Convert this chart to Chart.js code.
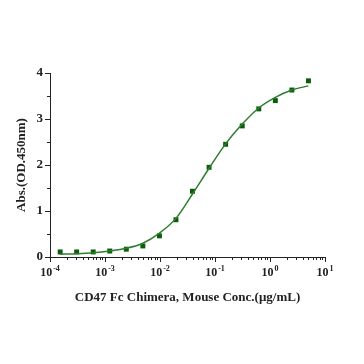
<!DOCTYPE html>
<html>
<head>
<meta charset="utf-8">
<script src="https://cdn.jsdelivr.net/npm/chart.js@4"></script>
<style>
  html, body { margin: 0; padding: 0; background: #fff; }
  #wrap { width: 364px; height: 364px; }
</style>
</head>
<body>
<div id="wrap"><canvas id="elisa"></canvas></div>
<script>
// 2-fold dilutions from 5 ug/mL
const conc = [0.000153, 0.000305, 0.00061, 0.00122, 0.00244, 0.00488, 0.00977, 0.0195,
              0.039, 0.078, 0.156, 0.3125, 0.625, 1.25, 2.5, 5];
const absorbance = [0.11, 0.11, 0.11, 0.13, 0.17, 0.24, 0.46, 0.81,
                    1.43, 1.95, 2.45, 2.85, 3.22, 3.40, 3.63, 3.83];
// fitted curve
const fitAbs = [0.06, 0.07, 0.09, 0.13, 0.19, 0.30, 0.52, 0.84,
                1.37, 1.93, 2.46, 2.89, 3.24, 3.47, 3.63, 3.72];
const xTickPowers = [-4, -3, -2, -1, 0, 1];
const yTicks = [0, 1, 2, 3, 4];

const SERIF = '"Liberation Serif", "Times New Roman", serif';
const axisFont = { family: SERIF, weight: 'bold', size: 13 };
const titleFont = { family: SERIF, weight: 'bold', size: 13 };

// tick marks (major + minor) and the 10^n labels, placed with the scales
const axisDecor = {
  id: 'axisDecor',
  afterDraw(chart) {
    const { ctx, scales: { x, y } } = chart;
    ctx.save();
    ctx.strokeStyle = '#222';
    ctx.lineWidth = 1;
    ctx.beginPath();
    for (let e = -4; e <= 0; e++) {
      for (let m = 1; m <= 9; m++) {
        const px = Math.round(x.getPixelForValue(m * Math.pow(10, e))) + 0.5;
        const len = m === 1 ? 5 : 3;
        ctx.moveTo(px, y.bottom);
        ctx.lineTo(px, y.bottom + len);
      }
    }
    const last = Math.round(x.getPixelForValue(10)) + 0.5;
    ctx.moveTo(last, y.bottom);
    ctx.lineTo(last, y.bottom + 5);
    for (let v = 0; v <= 4; v += 0.5) {
      const py = Math.round(y.getPixelForValue(v)) + 0.5;
      const len = v % 1 === 0 ? 5 : 3;
      ctx.moveTo(x.left, py);
      ctx.lineTo(x.left - len, py);
    }
    ctx.stroke();

    ctx.fillStyle = '#222';
    ctx.textBaseline = 'middle';
    ctx.textAlign = 'left';
    const base = 'bold 12px ' + SERIF;
    const small = 'bold 8px ' + SERIF;
    const ty = y.bottom + 16;
    xTickPowers.forEach(e => {
      const px = x.getPixelForValue(Math.pow(10, e));
      const exp = e < 0 ? '-' + Math.abs(e) : String(e);
      ctx.font = base;
      const w1 = ctx.measureText('10').width;
      ctx.font = small;
      const w2 = ctx.measureText(exp).width;
      const x0 = px - (w1 + w2 + 1) / 2;
      ctx.font = base;
      ctx.fillText('10', x0, ty);
      ctx.font = small;
      ctx.fillText(exp, x0 + w1 + 1, ty - 4);
    });
    ctx.restore();
  }
};

new Chart(document.getElementById('elisa'), {
  type: 'scatter',
  data: {
    datasets: [
      {
        label: 'fit',
        type: 'line',
        data: conc.map((c, i) => ({ x: c, y: fitAbs[i] })),
        borderColor: '#2f7d2f',
        borderWidth: 1.5,
        pointRadius: 0,
        fill: false,
        cubicInterpolationMode: 'monotone'
      },
      {
        label: 'OD',
        data: conc.map((c, i) => ({ x: c, y: absorbance[i] })),
        pointStyle: 'rect',
        pointRadius: 3.5,
        backgroundColor: '#0a5c0a',
        borderColor: '#0a5c0a',
        borderWidth: 0
      }
    ]
  },
  options: {
    responsive: true,
    maintainAspectRatio: false,
    animation: false,
    layout: { padding: { left: 0, right: 39, top: 73, bottom: 0 } },
    plugins: { legend: { display: false }, tooltip: { enabled: false } },
    scales: {
      x: {
        type: 'logarithmic',
        min: 1e-4,
        max: 10,
        afterBuildTicks: s => { s.ticks = xTickPowers.map(e => ({ value: Math.pow(10, e) })); },
        afterFit: s => { s.height = 107; },
        grid: { display: false, drawTicks: false },
        border: { color: '#222', width: 1 },
        ticks: { display: false },
        title: {
          display: true, text: 'CD47 Fc Chimera, Mouse Conc.(\u03BCg/mL)',
          color: '#222', font: titleFont, padding: { top: 0, bottom: 59 }
        }
      },
      y: {
        min: 0,
        max: 4,
        afterBuildTicks: s => { s.ticks = yTicks.map(v => ({ value: v })); },
        afterFit: s => { s.width = 50; },
        grid: { display: false, drawTicks: false },
        border: { color: '#222', width: 1 },
        ticks: { padding: 7, color: '#222', font: axisFont },
        title: {
          display: true, text: 'Abs.(OD.450nm)',
          color: '#222', font: titleFont, padding: { top: 14, bottom: 0 }
        }
      }
    }
  },
  plugins: [axisDecor]
});
</script>
</body>
</html>
